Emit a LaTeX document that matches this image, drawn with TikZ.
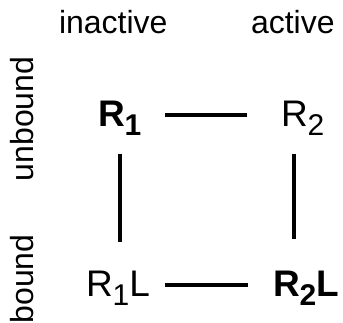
\documentclass[tikz,border=0pt]{standalone}
\usepackage{fontspec}
\setmainfont{Liberation Sans}
\usepackage{tikz}

\begin{document}
\begin{tikzpicture}[-,x=1pt,y=1pt,line width=4pt]

\tikzstyle{every node}=[inner sep=0pt,anchor=base west]
\tikzstyle{state}=[font=\fontsize{37}{40}\selectfont]
\tikzstyle{axis}=[font=\fontsize{32}{36}\selectfont]

\def\idx#1{\raisebox{-9pt}{\fontsize{30}{32}\selectfont #1}}

\useasboundingbox (0,0) rectangle (343,-323);

\node[axis] (inact) at (57,-34) {inactive};
\node[axis] (act) at (249,-34) {active};
\node[axis,rotate=90,anchor=base] (unb) at (33,-119) {unbound};
\node[axis,rotate=90,anchor=base] (bnd) at (33,-279) {bound};

\node[state] (r1) at (96,-127) {\textbf{R\idx{1}}};
\node[state] (r2) at (279,-127) {R\idx{2}};
\node[state] (r1l) at (84,-297) {R\idx{1}L};
\node[state] (r2l) at (271,-297) {\textbf{R\idx{2}L}};

\draw[shorten <=22pt,shorten >=32pt] ([yshift=12pt]r1.base east) -- ([yshift=12pt]r2.base west);
\draw[shorten <=13pt,shorten >=23pt] ([yshift=12pt]r1l.base east) -- ([yshift=12pt]r2l.base west);
\draw[shorten <=16pt,shorten >=28pt] (r1.south) -- (r1.south |- r1l.north);
\draw[shorten <=16pt,shorten >=31pt] ([xshift=-9pt]r2.south) -- ([xshift=-9pt]r2.south |- r2l.north);
\end{tikzpicture}
\end{document}
